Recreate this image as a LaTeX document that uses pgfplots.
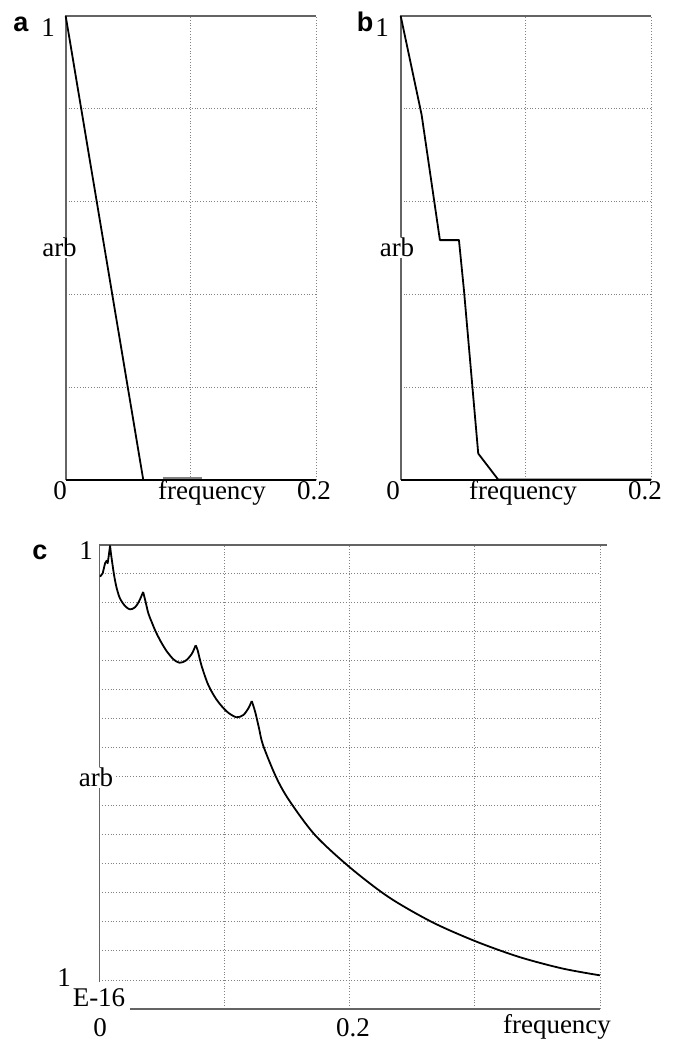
\documentclass[border=0pt]{standalone}
\usepackage{fontspec}
\setmainfont{Liberation Serif}
\newfontfamily\panelfont{Liberation Sans}
\usepackage{pgfplots}
\pgfplotsset{compat=1.18}
\definecolor{gridc}{RGB}{130,130,130}
\definecolor{axc}{RGB}{100,100,100}
\pgfplotsset{
  panel/.style={
    anchor=south west, scale only axis, clip=false,
    axis line style={draw=none},
    major tick length=0pt,
    xticklabels={}, yticklabels={},
    grid=major,
    major grid style={gridc, line width=1pt, dash pattern=on 1pt off 1.8pt},
  },
  curve/.style={black, line width=1.8pt, mark=none, line join=round},
}
\tikzset{
  lab/.style={font=\fontsize{27}{30}\selectfont, inner sep=0pt, anchor=base},
  plab/.style={font=\panelfont\bfseries\fontsize{27}{30}\selectfont, inner sep=0pt, anchor=base},
}
\begin{document}
\begin{tikzpicture}[x=1pt,y=1pt]
\useasboundingbox (0,0) rectangle (677,1041);
% ---------- panel a ----------
\begin{axis}[panel, at={(65.7pt,561pt)}, width=250.3pt, height=464pt,
  xmin=0, xmax=0.2, ymin=0, ymax=1,
  xtick={0.1,0.2}, ytick={0.2,0.4,0.6,0.8}]
  \draw[axc, line width=1.6pt] (rel axis cs:0,0) -- (rel axis cs:0,1) -- (rel axis cs:1,1);
  \draw[black, line width=1.8pt] (rel axis cs:0,0) -- (rel axis cs:1,0);
  \addplot[curve] coordinates {
    (0,1) (0.062,0) (0.2,0)};
  \addplot[gray, line width=1.4pt, mark=none] coordinates {
    (0.078,0.004) (0.1087,0.004)};
\end{axis}
% ---------- panel b ----------
\begin{axis}[panel, at={(400.7pt,561pt)}, width=250.5pt, height=464pt,
  xmin=0, xmax=0.2, ymin=0, ymax=1,
  xtick={0.1,0.2}, ytick={0.2,0.4,0.6,0.8}]
  \draw[axc, line width=1.6pt] (rel axis cs:0,0) -- (rel axis cs:0,1) -- (rel axis cs:1,1);
  \draw[black, line width=1.8pt] (rel axis cs:0,0) -- (rel axis cs:1,0);
  \addplot[curve] coordinates {
    (0,1) (0.0167,0.787) (0.0313,0.517) (0.0465,0.517) (0.0505,0.409)
    (0.0619,0.057) (0.0778,0.001) (0.2,0.001)};
\end{axis}
% ---------- panel c ----------
\begin{axis}[panel, at={(99.3pt,32pt)}, width=500.7pt, height=464pt,
  xmin=0, xmax=0.4, ymin=-16, ymax=0,
  xtick={0.1,0.2,0.3,0.4}, ytick={-15,-14,...,-1}]
  \draw[axc, line width=1.6pt] (axis cs:0,-15.06) -- (axis cs:0,0) -- (axis cs:0.4056,0);
  \draw[axc, line width=1.6pt] (axis cs:0.0245,-16) -- (axis cs:0.4,-16);
  \addplot[curve] coordinates {
    (0.0006,-1.09) (0.0027,-0.98) (0.0046,-0.63) (0.0059,-0.54) (0.0067,-0.63)
    (0.0078,-0.29) (0.0086,-0.02)};
  \addplot[curve, smooth, tension=0.5] coordinates {
    (0.0086,-0.02) (0.0093,-0.29) (0.0104,-0.63) (0.0120,-1.09)
    (0.0139,-1.49) (0.0165,-1.84) (0.0205,-2.10) (0.0245,-2.22) (0.0285,-2.15)
    (0.0317,-1.95) (0.0350,-1.62)};
  \addplot[curve, smooth, tension=0.5] coordinates {
    (0.0350,-1.62) (0.0358,-1.75) (0.0371,-1.98) (0.0392,-2.36)
    (0.0419,-2.66) (0.0450,-2.98) (0.0490,-3.32) (0.0538,-3.66) (0.0592,-3.94)
    (0.0640,-4.06) (0.0690,-3.99) (0.0738,-3.76) (0.0770,-3.46)};
  \addplot[curve, smooth, tension=0.5] coordinates {
    (0.0770,-3.46) (0.0785,-3.62)
    (0.0818,-4.18) (0.0871,-4.83) (0.0938,-5.34) (0.1018,-5.74) (0.1095,-5.94)
    (0.1151,-5.86) (0.1191,-5.63) (0.1218,-5.38)};
  \addplot[curve, smooth, tension=0.5] coordinates {
    (0.1218,-5.38) (0.1245,-5.75) (0.1275,-6.30) (0.1308,-6.90)
    (0.1412,-8.00) (0.1516,-8.80) (0.1723,-10.00) (0.2000,-11.11)
    (0.2311,-12.14) (0.2657,-13.00) (0.3003,-13.66) (0.3350,-14.20)
    (0.3696,-14.60) (0.4000,-14.84)};
\end{axis}
% ---------- labels ----------
\node[plab] at (21,1009) {a};
\node[lab, anchor=base east] at (55,1004) {1};
\node[lab, fill=white, inner sep=1pt] at (59.5,784) {arb};
\node[lab] at (60,541) {0};
\node[lab] at (212,541) {frequency};
\node[lab] at (314,541) {0.2};
\node[plab] at (365,1009) {b};
\node[lab, anchor=base east] at (389,1004) {1};
\node[lab, fill=white, inner sep=1pt] at (397,784) {arb};
\node[lab] at (393,541) {0};
\node[lab] at (523,541) {frequency};
\node[lab] at (645,541) {0.2};
\node[plab] at (40,481) {c};
\node[lab] at (86,481) {1};
\node[lab, fill=white, inner sep=1pt] at (96,254) {arb};
\node[lab] at (64,54) {1};
\node[lab] at (99,34) {E-16};
\node[lab] at (100,5) {0};
\node[lab] at (353,5) {0.2};
\node[lab] at (557,8) {frequency};
\end{tikzpicture}
\end{document}
